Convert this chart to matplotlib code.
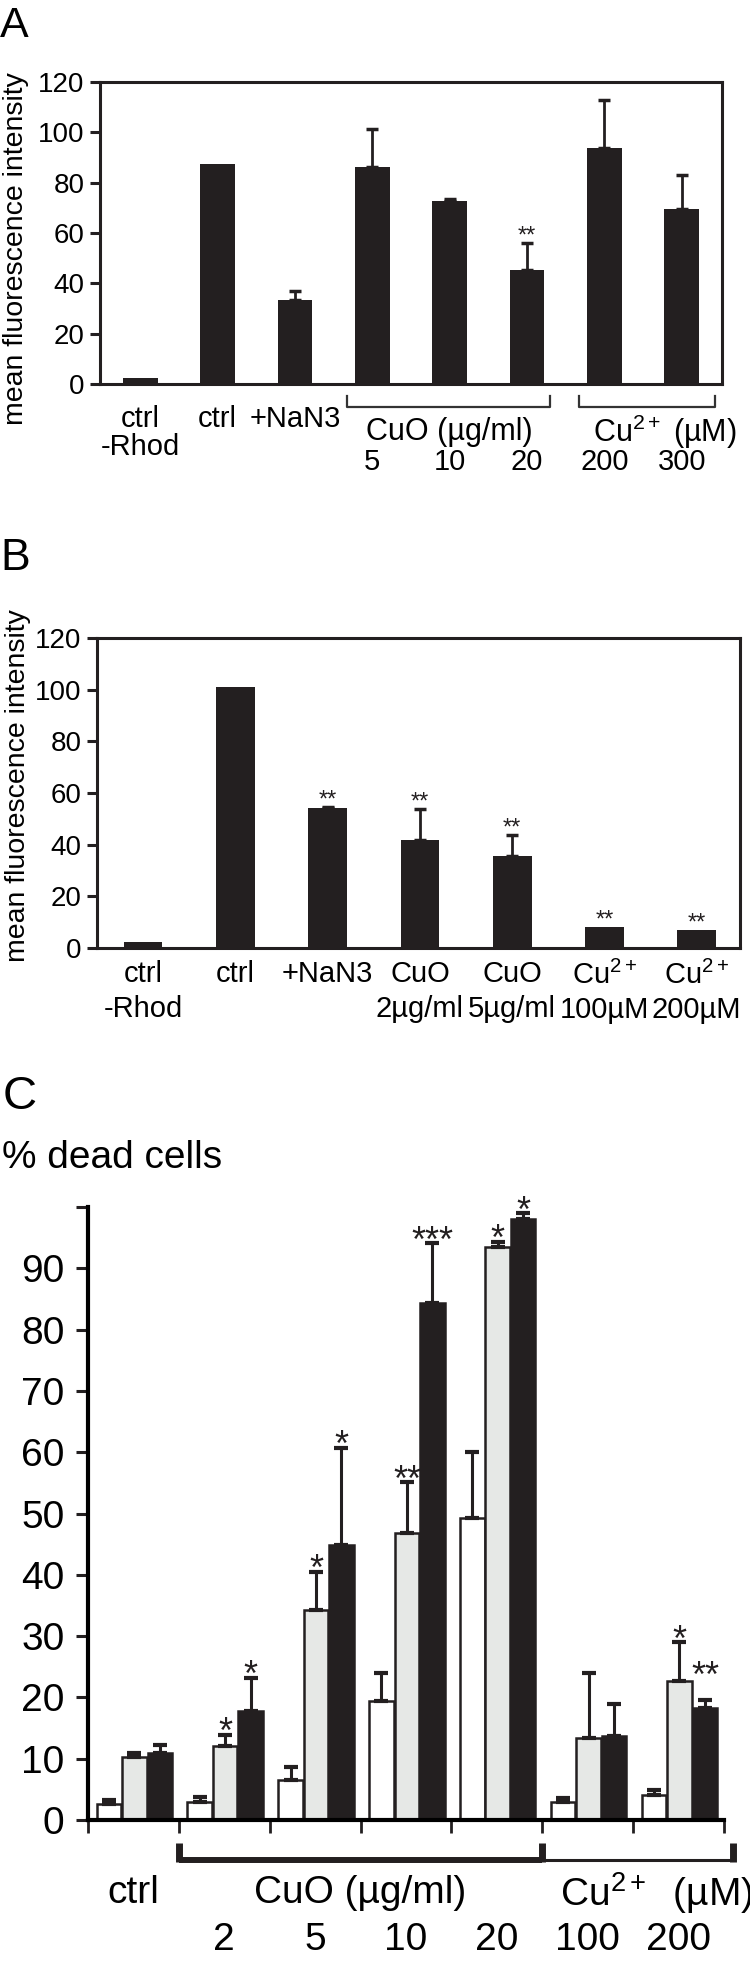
import numpy as np
import matplotlib
matplotlib.use("Agg")
import matplotlib.pyplot as plt

plt.rcParams['font.family'] = ['Liberation Sans', 'DejaVu Sans']
plt.rcParams['mathtext.fontset'] = 'custom'
plt.rcParams['mathtext.rm'] = 'Liberation Sans'
plt.rcParams['mathtext.it'] = 'Liberation Sans:italic'
plt.rcParams['mathtext.bf'] = 'Liberation Sans:bold'

BLACK = '#231f20'
GRAY = '#e6e8e6'
CU = r'$\mathregular{Cu^{2+}}$'

# panel A
a_names = ['ctrl\n-Rhod', 'ctrl', '+NaN3', '', '', '', '', '']
a_doses = ['', '', '', '5', '10', '20', '200', '300']
a_vals = [2.5, 87.4, 33.5, 86.1, 72.9, 45.1, 93.7, 69.5]
a_err = [0, 0, 3.3, 15.2, 0.8, 10.8, 19.1, 13.4]
a_stars = ['', '', '', '', '', '**', '', '']

# panel B
b_names = ['ctrl\n-Rhod', 'ctrl', '+NaN3', 'CuO\n2µg/ml', 'CuO\n5µg/ml',
           CU + '\n100µM', CU + '\n200µM']
b_vals = [2.3, 101.0, 54.2, 41.7, 35.6, 8.1, 7.0]
b_err = [0, 0, 0.3, 12.0, 8.1, 0, 0]
b_stars = ['', '', '**', '**', '**', '**', '**']

# panel C
c_groups = ['ctrl', '2', '5', '10', '20', '100', '200']
c_white = [2.6, 3.0, 6.6, 19.4, 49.2, 3.0, 4.1]
c_white_err = [0.7, 0.8, 2.1, 4.5, 10.8, 0.6, 0.8]
c_gray = [10.2, 12.1, 34.3, 46.8, 93.4, 13.3, 22.7]
c_gray_err = [0.7, 1.8, 6.2, 8.3, 0.9, 10.7, 6.3]
c_black = [10.9, 17.8, 44.8, 84.3, 98.1, 13.75, 18.2]
c_black_err = [1.4, 5.4, 15.9, 9.8, 0.9, 5.25, 1.4]
c_gray_stars = ['', '*', '*', '**', '*', '', '*']
c_black_stars = ['', '*', '*', '***', '*', '', '**']

W, H = 750, 1961
fig = plt.figure(figsize=(W / 100, H / 100), dpi=100)


def box(l, r, t, b):
    return [l / W, 1 - b / H, (r - l) / W, (b - t) / H]


def upper_err(ax, x, y, e, capsize, lw, capthick):
    x = np.asarray(x, float)
    y = np.asarray(y, float)
    e = np.asarray(e, float)
    m = e > 0
    ax.errorbar(x[m], y[m], yerr=[np.zeros(m.sum()), e[m]], fmt='none',
                ecolor=BLACK, elinewidth=lw, capsize=capsize, capthick=capthick)


def stars(ax, x, top, s, size, dy):
    if s:
        ax.annotate(s, (x, top), xytext=(0, dy), textcoords='offset points',
                    ha='center', va='baseline', fontsize=size, color=BLACK,
                    annotation_clip=False)


def box_axes(ax):
    for sp in ax.spines.values():
        sp.set_linewidth(2.2)
        sp.set_color(BLACK)
    ax.set_ylim(0, 120)
    ax.set_yticks(range(0, 121, 20))
    ax.tick_params(axis='y', direction='out', length=7, width=2.2,
                   labelsize=20, pad=4, color=BLACK)


# ---------------- A ----------------
axA = fig.add_axes(box(100, 722, 82, 384))
xa = np.arange(len(a_vals))
axA.bar(xa, a_vals, width=0.45, color=BLACK)
upper_err(axA, xa, a_vals, a_err, 4.3, 2, 2.5)
for i in xa:
    stars(axA, i, a_vals[i] + a_err[i], a_stars[i], 17, 0.5)
box_axes(axA)
axA.set_xlim(-0.52, 7.52)
axA.set_xticks([])
tA = axA.get_xaxis_transform()
for i in xa:
    if a_names[i]:
        axA.text(i, -0.07, a_names[i], transform=tA, ha='center', va='top',
                 fontsize=21, linespacing=1.0)
    if a_doses[i]:
        axA.text(i, -0.258, a_doses[i], transform=tA, ha='center',
                 va='center', fontsize=21)
axA.text(4, -0.159, 'CuO (µg/ml)', transform=tA, ha='center', va='center',
         fontsize=22)
axA.text(6 - 0.15, -0.159, CU + ' (µM)', transform=tA, ha='left',
         va='center', fontsize=22)
for x0, x1 in [(3 - 0.33, 5 + 0.30), (6 - 0.33, 7 + 0.43)]:
    axA.plot([x0, x0, x1, x1], [-0.040, -0.076, -0.076, -0.040],
             transform=tA, color='#333333', lw=1.6, clip_on=False)

# ---------------- B ----------------
axB = fig.add_axes(box(97, 740, 638, 948))
xb = np.arange(len(b_vals))
axB.bar(xb, b_vals, width=0.42, color=BLACK)
upper_err(axB, xb, b_vals, b_err, 4.3, 2, 2.5)
for i in xb:
    stars(axB, i, b_vals[i] + b_err[i], b_stars[i], 17, 0.5)
box_axes(axB)
axB.set_xlim(-0.5, 6.47)
axB.set_xticks(xb, b_names)
axB.tick_params(axis='x', length=0, pad=9, labelsize=21)
for lab in axB.get_xticklabels():
    lab.set_linespacing(1.3)

# ---------------- C ----------------
axC = fig.add_axes(box(88, 724, 1207, 1820))
xc = np.arange(len(c_groups))
bw = 0.27
series = [(c_white, c_white_err, 'white', 0.23, None),
          (c_gray, c_gray_err, GRAY, 0.51, c_gray_stars),
          (c_black, c_black_err, BLACK, 0.79, c_black_stars)]
for vals, errs, col, off, st in series:
    axC.bar(xc + off, vals, width=bw, color=col, edgecolor=BLACK, lw=1.8)
    upper_err(axC, xc + off, vals, errs, 5, 2.2, 3)
    if st:
        for i in xc:
            lift = 3.5 if (off == 0.79 and i == 6) else 0
            stars(axC, i + off, vals[i] + errs[i] + lift, st[i], 26, -6)
axC.set_xlim(0, 7)
axC.set_ylim(0, 100)
axC.spines['top'].set_visible(False)
axC.spines['right'].set_visible(False)
axC.spines['left'].set_linewidth(3)
axC.spines['bottom'].set_linewidth(3)
axC.spines['bottom'].set_bounds(0, 7)
axC.set_yticks(range(0, 101, 10), [str(v) for v in range(0, 91, 10)] + [''])
axC.set_xticks(range(8), [''] * 8)
axC.tick_params(axis='y', direction='out', length=9, width=2.2,
                labelsize=28, pad=8, color=BLACK)
axC.tick_params(axis='x', direction='out', length=9.5, width=2.0, color=BLACK)
tC = axC.get_xaxis_transform()
axC.text(0.5, -0.119, c_groups[0], transform=tC, ha='center', va='center',
         fontsize=28)
for i in xc[1:]:
    axC.text(i + 0.5, -0.196, c_groups[i], transform=tC, ha='center',
             va='center', fontsize=28)
axC.text(3, -0.119, 'CuO (µg/ml)', transform=tC, ha='center', va='center',
         fontsize=28)
axC.text(5.2, -0.119, CU + '  (µM)', transform=tC, ha='left',
         va='center', fontsize=28)
axC.plot([1, 5], [-0.0653, -0.0653], transform=tC, color=BLACK, lw=4.3,
         clip_on=False, solid_capstyle='butt')
axC.plot([5, 7.1], [-0.0653, -0.0653], transform=tC, color=BLACK, lw=2.2,
         clip_on=False, solid_capstyle='butt')
for xe in [1, 5, 7.1]:
    axC.plot([xe, xe], [-0.038, -0.069], transform=tC, color=BLACK, lw=5,
             clip_on=False, solid_capstyle='butt')

# ---------------- figure texts ----------------
fig.text(0.0, 1 - 37 / H, 'A', fontsize=31, va='baseline', ha='left')
fig.text(0.0, 1 - 570 / H, 'B', fontsize=32, va='baseline', ha='left')
fig.text(0.003, 1 - 1109 / H, 'C', fontsize=34, va='baseline', ha='left')
fig.text(0.003, 1 - 1168 / H, '% dead cells', fontsize=28, va='baseline',
         ha='left')
fig.text(16 / W, 1 - 249 / H, 'mean fluorescence intensity', rotation=90,
         ha='center', va='center', fontsize=20.5)
fig.text(18 / W, 1 - 786 / H, 'mean fluorescence intensity', rotation=90,
         ha='center', va='center', fontsize=20.5)

fig.savefig('out.png', dpi=100, facecolor='white')
